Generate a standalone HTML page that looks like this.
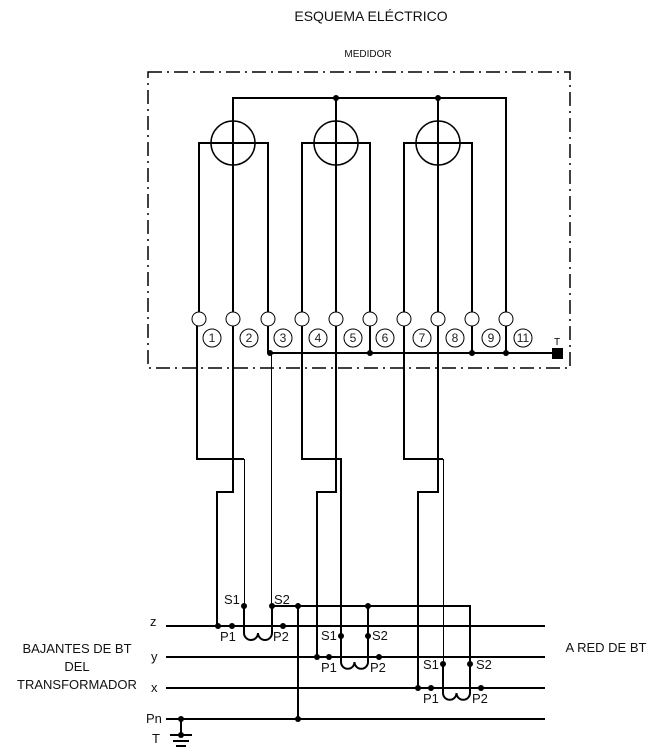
<!DOCTYPE html>
<html><head><meta charset="utf-8"><style>
html,body{margin:0;padding:0;background:#fff;}
svg{display:block;font-family:"Liberation Sans",Arial,sans-serif;}
</style></head><body>
<svg width="661" height="756" viewBox="0 0 661 756" xmlns="http://www.w3.org/2000/svg">
<text x="371" y="21" font-size="14" text-anchor="middle" fill="#111">ESQUEMA ELÉCTRICO</text>
<text x="368" y="57" font-size="10" text-anchor="middle" fill="#111">MEDIDOR</text>
<rect x="148" y="72" width="422" height="296" fill="none" stroke="#000" stroke-width="1.5" stroke-dasharray="14,5,2,5"/>
<g stroke="#000" stroke-width="2" fill="none">
<polyline points="233,319 233,98 506,98 506,319"/>
<line x1="336" y1="98" x2="336" y2="319"/>
<line x1="438" y1="98" x2="438" y2="319"/>
<polyline points="199,319 199,143 268,143 268,319"/>
<polyline points="302,319 302,143 370,143 370,319"/>
<polyline points="404,319 404,143 472,143 472,319"/>
<circle cx="233" cy="143" r="22" stroke-width="1.5"/>
<circle cx="336" cy="143" r="22" stroke-width="1.5"/>
<circle cx="438" cy="143" r="22" stroke-width="1.5"/>
<line x1="268" y1="326" x2="268" y2="353"/>
<line x1="370" y1="326" x2="370" y2="353"/>
<line x1="472" y1="326" x2="472" y2="353"/>
<line x1="506" y1="326" x2="506" y2="353"/>
<line x1="270" y1="353" x2="557" y2="353"/>
<polyline points="197,326 197,459 244,459"/>
<polyline points="233,326 233,492 217,492 217,626"/>
<polyline points="302,326 302,459 341,459 341,636"/>
<polyline points="336,326 336,492 317,492 317,657"/>
<polyline points="404,326 404,459 443,459"/>
<polyline points="438,326 438,492 418,492 418,688"/>
<line x1="166" y1="626" x2="545" y2="626"/>
<line x1="166" y1="657" x2="545" y2="657"/>
<line x1="166" y1="688" x2="545" y2="688"/>
<line x1="166" y1="719" x2="545" y2="719"/>
<polyline points="272,606 470,606 470,664"/>
<line x1="298" y1="606" x2="298" y2="719"/>
<line x1="368" y1="606" x2="368" y2="636"/>
<path d="M244 606 V633 a7 7 0 0 0 14 0 a7 7 0 0 0 14 0 V606"/>
<path d="M341 636 V662 a6.75 6.75 0 0 0 13.5 0 a6.75 6.75 0 0 0 13.5 0 V636"/>
<path d="M443 664 V693 a6.75 6.75 0 0 0 13.5 0 a6.75 6.75 0 0 0 13.5 0 V664"/>
<line x1="181" y1="719" x2="181" y2="735"/>
<line x1="170" y1="735" x2="192" y2="735"/>
<line x1="173" y1="741" x2="189" y2="741"/>
<line x1="176" y1="746" x2="186" y2="746"/>
</g>
<g stroke="#000" stroke-width="1" fill="none">
<line x1="244.5" y1="459" x2="244.5" y2="606"/>
<line x1="271.5" y1="353" x2="271.5" y2="606"/>
<line x1="443.5" y1="459" x2="443.5" y2="664"/>
</g>
<g stroke="#000" stroke-width="1" fill="#fff">
<circle cx="199" cy="319" r="7"/><circle cx="233" cy="319" r="7"/><circle cx="268" cy="319" r="7"/>
<circle cx="302" cy="319" r="7"/><circle cx="336" cy="319" r="7"/><circle cx="370" cy="319" r="7"/>
<circle cx="404" cy="319" r="7"/><circle cx="438" cy="319" r="7"/><circle cx="472" cy="319" r="7"/>
<circle cx="506" cy="319" r="7"/>
<circle cx="212" cy="338" r="9"/><circle cx="249" cy="338" r="9"/><circle cx="283" cy="338" r="9"/>
<circle cx="318" cy="338" r="9"/><circle cx="353" cy="338" r="9"/><circle cx="385" cy="338" r="9"/>
<circle cx="422" cy="338" r="9"/><circle cx="455" cy="338" r="9"/><circle cx="491" cy="338" r="9"/>
<circle cx="523" cy="338" r="9"/>
</g>
<g font-size="12" text-anchor="middle" fill="#222">
<text x="212" y="342">1</text><text x="249" y="342">2</text><text x="283" y="342">3</text>
<text x="318" y="342">4</text><text x="353" y="342">5</text><text x="385" y="342">6</text>
<text x="422" y="342">7</text><text x="455" y="342">8</text><text x="491" y="342">9</text>
<text x="523" y="342">11</text>
</g>
<rect x="552" y="348" width="11" height="11" fill="#000"/>
<text x="557" y="345" font-size="10" text-anchor="middle">T</text>
<g fill="#000">
<circle cx="336" cy="98" r="3"/><circle cx="438" cy="98" r="3"/>
<circle cx="270" cy="353" r="3"/><circle cx="370" cy="353" r="3"/><circle cx="472" cy="353" r="3"/><circle cx="506" cy="353" r="3"/>
<circle cx="244" cy="606" r="3"/><circle cx="272" cy="606" r="3"/><circle cx="298" cy="606" r="3"/><circle cx="368" cy="606" r="3"/>
<circle cx="218" cy="626" r="3"/><circle cx="232" cy="626" r="3"/><circle cx="283" cy="626" r="3"/>
<circle cx="341" cy="636" r="3"/><circle cx="368" cy="636" r="3"/>
<circle cx="317" cy="657" r="3"/><circle cx="329" cy="657" r="3"/><circle cx="379" cy="657" r="3"/>
<circle cx="443" cy="664" r="3"/><circle cx="470" cy="664" r="3"/>
<circle cx="418" cy="688" r="3"/><circle cx="431" cy="688" r="3"/><circle cx="481" cy="688" r="3"/>
<circle cx="181" cy="719" r="3"/><circle cx="298" cy="719" r="3"/><circle cx="181" cy="735" r="3"/>
</g>
<g font-size="13" fill="#111">
<text x="224" y="604">S1</text><text x="274" y="604">S2</text>
<text x="220" y="641">P1</text><text x="273" y="641">P2</text>
<text x="321" y="640">S1</text><text x="372" y="640">S2</text>
<text x="321" y="672">P1</text><text x="370" y="672">P2</text>
<text x="423" y="669">S1</text><text x="476" y="669">S2</text>
<text x="423" y="703">P1</text><text x="472" y="703">P2</text>
<text x="150" y="626">z</text><text x="151" y="661">y</text><text x="151" y="692">x</text>
<text x="146" y="723">Pn</text><text x="152" y="743">T</text>
<text x="77" y="653" text-anchor="middle">BAJANTES DE BT</text>
<text x="77" y="671" text-anchor="middle">DEL</text>
<text x="77" y="689" text-anchor="middle">TRANSFORMADOR</text>
<text x="606" y="652" text-anchor="middle">A RED DE BT</text>
</g>
</svg>
</body></html>
